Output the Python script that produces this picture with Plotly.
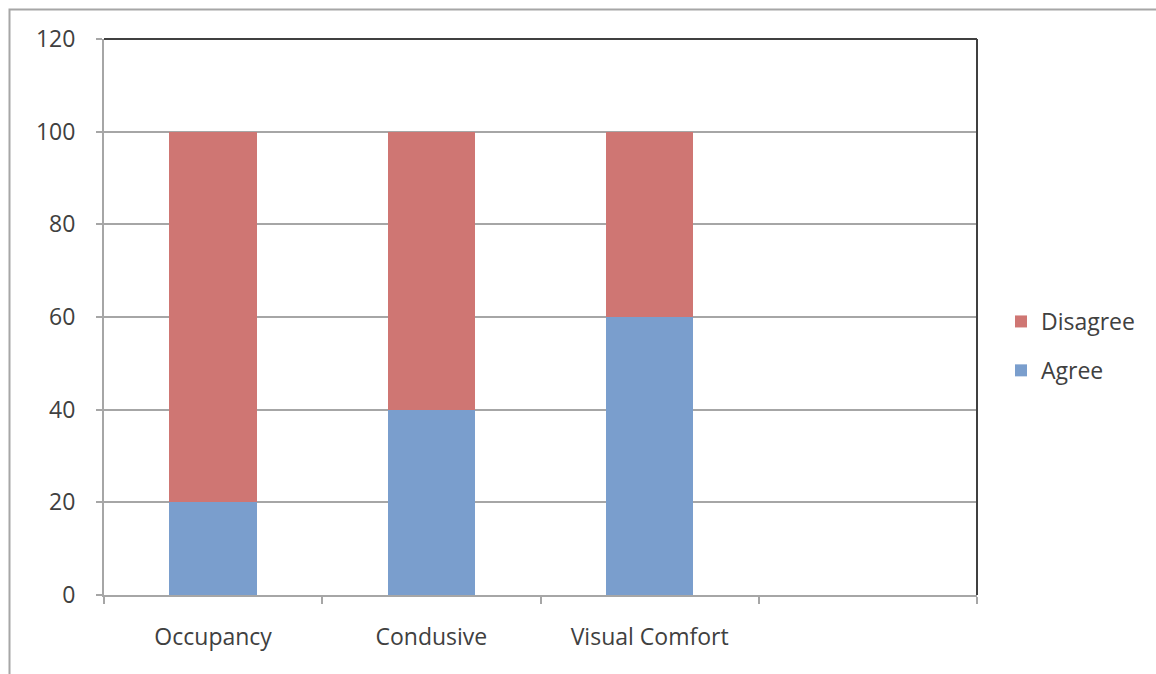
import plotly.graph_objects as go

# Survey results (percent of respondents)
categories = ["Occupancy", "Condusive", "Visual Comfort", " "]
agree = [20, 40, 60, None]
disagree = [80, 60, 40, None]
y_ticks = [0, 20, 40, 60, 80, 100, 120]

W, H = 1156, 674
L, R, T, B = 104, 179, 39, 79
pw, ph = W - L - R, H - T - B

def px_x(x):
    return (x - L) / pw

def px_y(y):
    return (H - B - y) / ph

FS = 23
font = dict(family="Open Sans, Liberation Sans, sans-serif", size=FS, color="#404040")

fig = go.Figure()
fig.add_trace(go.Bar(name="Agree", x=categories, y=agree, legendgroup="a", legendrank=2,
                     marker=dict(color="#7A9ECD", line=dict(width=0)), width=0.4))
fig.add_trace(go.Bar(name="Disagree", x=categories, y=disagree, legendgroup="d", legendrank=1,
                     marker=dict(color="#CF7673", line=dict(width=0)), width=0.4))

fig.update_layout(
    width=W, height=H,
    margin=dict(l=L, r=R, t=T, b=B, pad=0),
    barmode="stack",
    plot_bgcolor="white", paper_bgcolor="white",
    font=font,
    showlegend=True,
    legend=dict(traceorder="grouped", x=px_x(1001), y=px_y(346), xanchor="left", yanchor="middle",
                font=dict(size=FS, color="#404040"), itemsizing="constant", tracegroupgap=16,
                bgcolor="rgba(0,0,0,0)"),
    xaxis=dict(
        type="category", categoryorder="array", categoryarray=categories,
        tickson="boundaries", ticks="outside", ticklen=7, tickcolor="#A6A6A6", tickwidth=1.5,
        showgrid=False, showline=True, linecolor="#A6A6A6", linewidth=2,
        ticklabelstandoff=20, tickfont=dict(size=FS, color="#404040"),
        range=[-0.5, 3.5], fixedrange=True,
    ),
    yaxis=dict(
        range=[0, 120], tickvals=y_ticks, ticks="outside", ticklen=6, tickcolor="#A6A6A6", tickwidth=1.5,
        showgrid=True, gridcolor="#A6A6A6", gridwidth=1.5, zeroline=False,
        showline=True, linecolor="#A6A6A6", linewidth=2,
        ticklabelstandoff=16, tickfont=dict(size=FS, color="#404040"),
    ),
    shapes=[
        # outer chart frame
        dict(type="rect", xref="paper", yref="paper",
             x0=px_x(9.5), x1=px_x(1160), y0=px_y(680), y1=px_y(9.5),
             line=dict(color="#A6A6A6", width=2), fillcolor="rgba(0,0,0,0)", layer="below"),
        # dark top and right edges of the plot area
        dict(type="line", xref="paper", yref="paper", x0=0, x1=1, y0=1, y1=1,
             line=dict(color="#404040", width=2)),
        dict(type="line", xref="paper", yref="paper", x0=1, x1=1, y0=0, y1=1,
             line=dict(color="#404040", width=2)),
    ],
)

fig.write_html("out.html")
